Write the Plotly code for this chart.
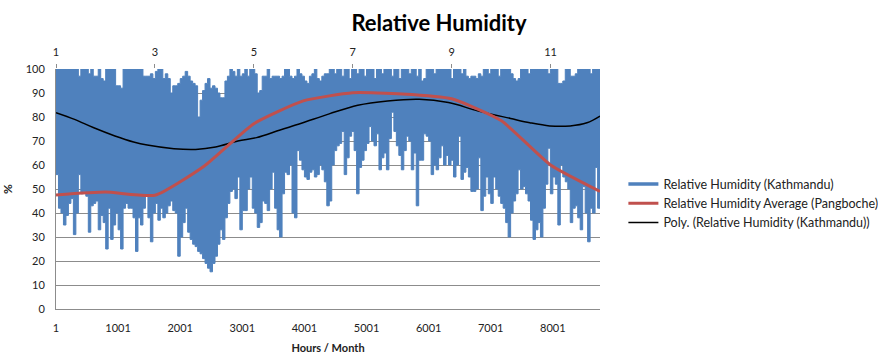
import plotly.graph_objects as go

# ---------------- data ----------------
# Hourly relative humidity for Kathmandu, summarised as the lower and upper
# envelope of the dense hourly trace, read every 40 hours (hour 1 .. 8761).
env_hours = list(range(1, 8762, 40))

rh_low = [
    56, 42, 40, 35, 39, 44, 46, 31, 40, 56,
    48, 49, 47, 32, 43, 44, 45, 33, 39, 36,
    25, 42, 29, 35, 40, 33, 25, 42, 44, 42,
    42, 38, 24, 38, 35, 42, 47,
    38, 28, 40, 44, 37, 42, 38, 40, 43, 45,
    41, 40, 22, 30, 36, 42, 32, 29, 27, 26,
    24, 23, 21, 19, 17, 15.5, 19, 22, 27, 33,
    29, 38, 44, 49, 50, 46, 55,
    33, 41, 41, 50, 55, 42, 40, 34, 36, 45,
    44, 41, 50, 57, 42, 33, 30, 48, 57, 56,
    60, 40, 38, 66, 62, 58, 55, 54, 57, 58,
    55, 56, 60, 58, 53, 43,
    45, 60, 66, 68, 69, 74, 56, 63, 72, 74,
    66, 48, 59, 62, 66, 69, 76, 70, 68, 73,
    58, 63, 65, 58, 71, 82, 74, 68, 64, 58,
    66, 72, 70, 58, 65, 43, 62,
    62, 73, 72, 70, 56, 60, 58, 63, 68, 60,
    64, 60, 62, 55, 60, 72, 54, 57, 59, 55,
    49, 49, 50, 63, 41, 47, 55, 48, 44, 55,
    50, 47, 44, 42, 36, 30, 40,
    45, 48, 58, 50, 51, 48, 45, 37, 29, 33,
    36, 30, 42, 52, 67, 48, 55, 52, 35, 60,
    55, 53, 50, 36, 42, 43, 38, 33, 51, 40,
    28, 42, 40, 59, 42, 44,
]

rh_high = [
    100, 100, 100, 100, 100, 100, 100, 100, 100, 97,
    100, 100, 100, 98, 100, 97, 97, 100, 96, 95,
    100, 100, 100, 100, 93, 93, 92, 100, 100, 100,
    100, 100, 100, 100, 100, 97, 97,
    97, 98, 96, 99, 100, 100, 96, 98, 96, 90,
    93, 93, 94, 96, 97, 99, 97, 95, 94, 93,
    80, 87, 91, 94, 96, 92, 93, 92, 90, 88,
    88, 95, 97, 100, 99, 97, 100,
    97, 98, 100, 97, 100, 100, 98, 90, 91, 97,
    97, 100, 96, 97, 97, 97, 96, 97, 100, 100,
    97, 96, 97, 100, 98, 97, 95, 94, 97, 98,
    100, 96, 95, 97, 98, 98,
    100, 100, 98, 100, 100, 97, 100, 100, 96, 100,
    100, 98, 100, 100, 97, 100, 100, 100, 96, 100,
    100, 98, 100, 100, 100, 97, 100, 100, 96, 100,
    100, 100, 98, 100, 100, 97, 100,
    95, 96, 100, 100, 100, 98, 100, 100, 100, 100,
    100, 100, 96, 100, 100, 100, 98, 100, 97, 96,
    97, 97, 96, 98, 97, 100, 100, 98, 100, 100,
    100, 97, 100, 100, 100, 100, 98,
    96, 95, 96, 100, 100, 100, 98, 100, 100, 100,
    100, 100, 100, 100, 98, 100, 100, 100, 94, 94,
    95, 100, 100, 97, 97, 98, 100, 100, 100, 100,
    100, 98, 100, 100, 100, 100,
]

# Monthly average relative humidity, Pangboche (top axis: month 1..12)
months = [1, 2, 3, 4, 5, 6, 7, 8, 9, 10, 11, 12]
rh_pangboche = [47.5, 48.7, 47.4, 59.6, 77.2, 86.7, 90.1, 89.6, 87.6, 78.5, 60.0, 49.0]

# Polynomial trendline of the Kathmandu series, read at a few hours
poly_hours = [1, 300, 600, 950, 1250, 1470, 1900, 2250, 2570, 2930, 3230, 3610,
              3940, 4400, 4860, 5340, 5850, 6320, 6800, 7320, 7630, 7950, 8280, 8550, 8760]
poly_vals = [81.8, 79.0, 75.6, 72.1, 69.6, 68.3, 66.8, 66.5, 67.5, 70.0, 71.4, 74.6,
             77.3, 81.3, 84.9, 86.7, 87.4, 86.0, 82.5, 79.4, 77.6, 76.3, 76.3, 77.6, 80.4]

hour_ticks = [1, 1001, 2001, 3001, 4001, 5001, 6001, 7001, 8001]
month_ticks = [1, 3, 5, 7, 9, 11]
y_ticks = [0, 10, 20, 30, 40, 50, 60, 70, 80, 90, 100]

n = min(len(env_hours), len(rh_low), len(rh_high))

BLUE = "#4F81BD"
RED = "#C0504D"
GRID = "#8C8C8C"
FONT = "Lato"

fig = go.Figure()

# Kathmandu hourly band (lower envelope, then upper filled down to it)
fig.add_trace(go.Scatter(
    x=env_hours[:n], y=rh_low[:n], mode="lines", line=dict(color=BLUE, width=1, shape="hv"),
    showlegend=False, hoverinfo="skip"))
fig.add_trace(go.Scatter(
    x=env_hours[:n], y=rh_high[:n], mode="lines", line=dict(color=BLUE, width=1, shape="hv"),
    fill="tonexty", fillcolor=BLUE, showlegend=False, hoverinfo="skip"))

# legend entry for the Kathmandu series
fig.add_trace(go.Scatter(
    x=[None], y=[None], mode="lines", line=dict(color=BLUE, width=3.5),
    name="Relative Humidity (Kathmandu)", legendgroup="a"))

# Pangboche monthly average (top month axis)
fig.add_trace(go.Scatter(
    x=months, y=rh_pangboche, mode="lines", xaxis="x2",
    line=dict(color=RED, width=3, shape="spline", smoothing=0.5),
    name="Relative Humidity Average (Pangboche)", legendgroup="b"))

# polynomial trendline
fig.add_trace(go.Scatter(
    x=poly_hours, y=poly_vals, mode="lines",
    line=dict(color="black", width=1.5, shape="spline", smoothing=1.0),
    name="Poly. (Relative Humidity (Kathmandu))", legendgroup="c"))

fig.update_layout(
    width=878, height=361,
    margin=dict(l=56, r=278, t=69, b=52, autoexpand=False),
    paper_bgcolor="white", plot_bgcolor="white",
    font=dict(family=FONT, size=11, color="#222222"),
    title=dict(text="<b>Relative Humidity</b>", x=0.5, xanchor="center", xref="container",
               y=0.958, yref="container", yanchor="top",
               font=dict(family=FONT, size=22, color="black")),
    showlegend=True,
    legend=dict(x=1.043, y=0.44, xanchor="left", yanchor="middle",
                font=dict(family=FONT, size=12.5, color="#222222"),
                tracegroupgap=0, bgcolor="rgba(0,0,0,0)"),
    xaxis=dict(range=[1, 8760], tickmode="array", tickvals=hour_ticks,
               ticktext=[str(t) for t in hour_ticks], automargin=False,
               showgrid=False, zeroline=False, showline=True, linecolor=GRID, linewidth=1,
               ticks="", tickfont=dict(size=11), ticklabelstandoff=9,
               title=dict(text="<b>Hours / Month</b>", font=dict(size=11), standoff=11)),
    xaxis2=dict(range=[1, 12], overlaying="x", side="top", tickmode="array",
                tickvals=month_ticks, ticktext=[str(m) for m in month_ticks],
                showgrid=False, zeroline=False, showline=False, automargin=False,
                ticks="outside", ticklen=4, tickcolor=GRID, tickfont=dict(size=11),
                ticklabelstandoff=4),
    yaxis=dict(range=[0, 100], tickmode="array", tickvals=y_ticks, automargin=False,
               showgrid=True, gridcolor=GRID, gridwidth=1, zeroline=False,
               showline=True, linecolor=GRID, linewidth=1, ticks="",
               tickfont=dict(size=11), ticklabelstandoff=8,
               title=dict(text="<b>%</b>", font=dict(size=12), standoff=10)),
)

fig.write_html("out.html", config={"displayModeBar": False},
               post_script="document.body.style.margin='0';")
